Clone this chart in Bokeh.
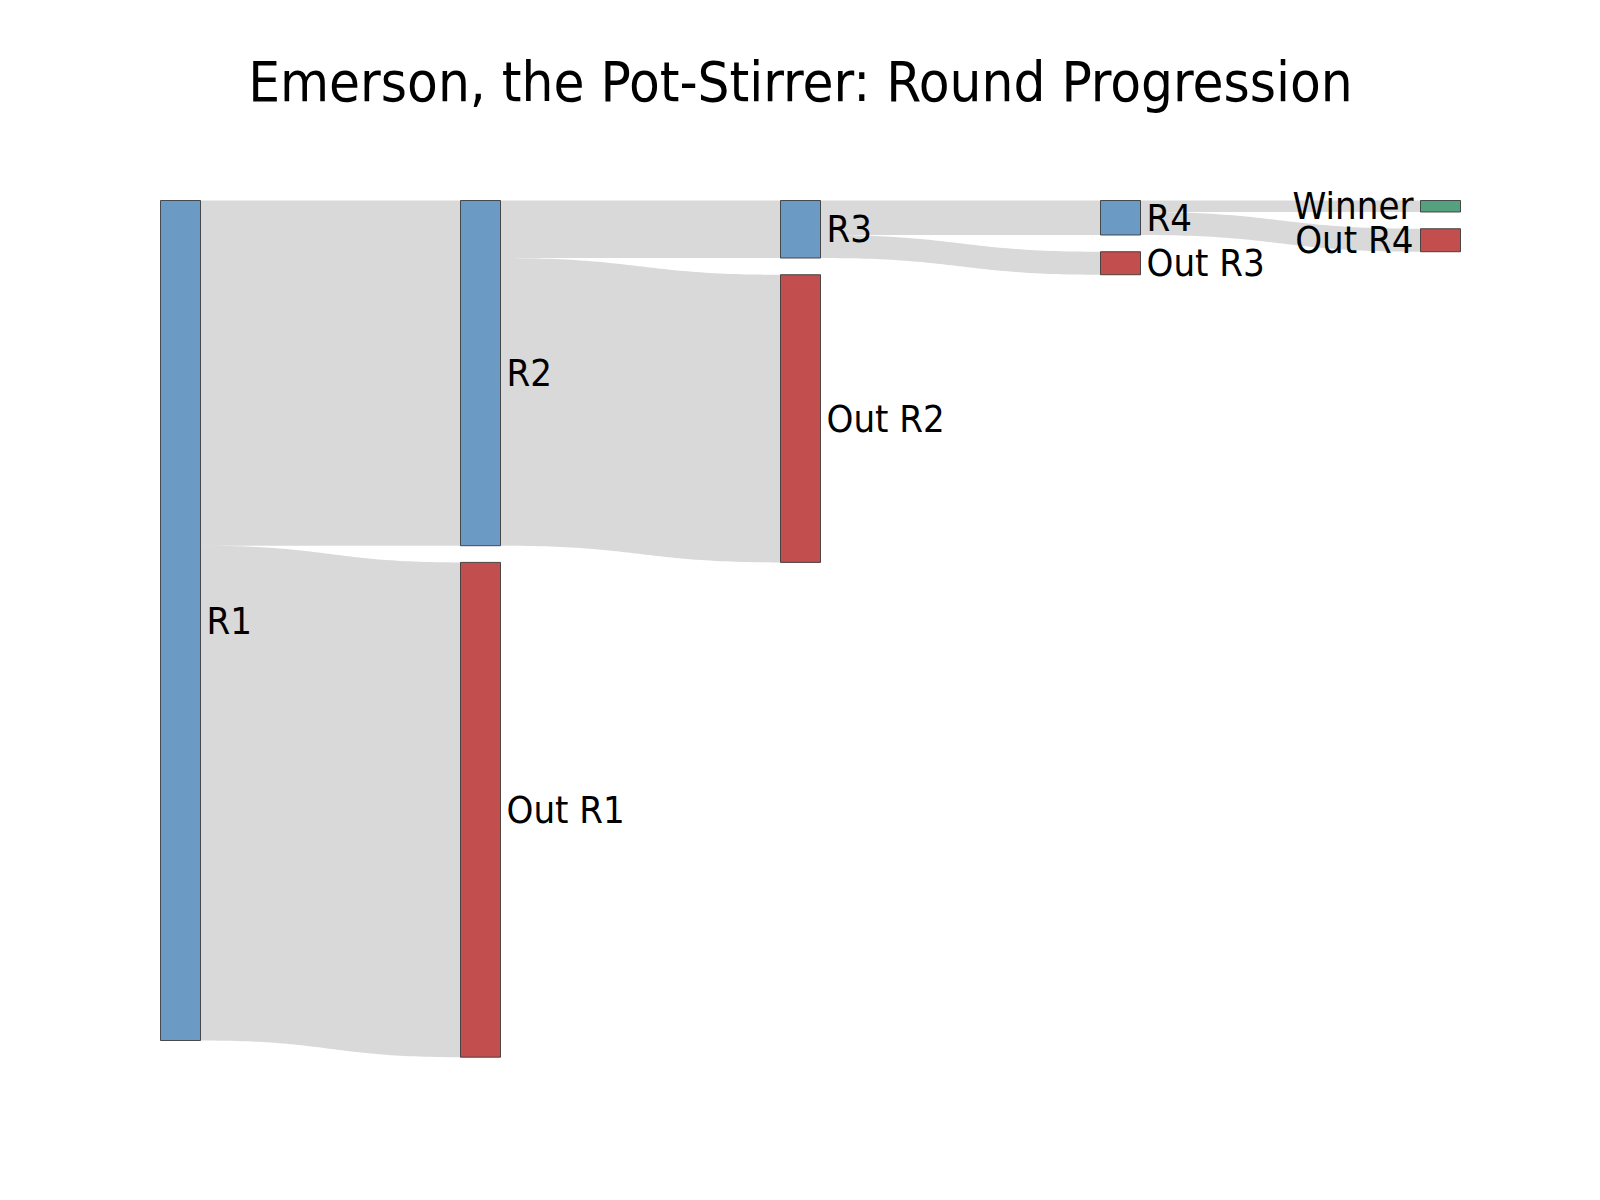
import numpy as np
from bokeh.plotting import figure
from bokeh.models import Range1d
from bokeh.core.properties import value
from bokeh.embed import file_html
from bokeh.resources import INLINE

# ---------------- data ----------------
title_text = "Emerson, the Pot-Stirrer: Round Progression"
node_labels = ["R1", "R2", "R3", "R4", "Winner", "Out R1", "Out R2", "Out R3", "Out R4"]
node_column = [0, 1, 2, 3, 4, 1, 2, 3, 4]
node_kind = ["round", "round", "round", "round", "winner", "out", "out", "out", "out"]
link_source = ["R1", "R1", "R2", "R2", "R3", "R3", "R4", "R4"]
link_target = ["R2", "Out R1", "R3", "Out R2", "R4", "Out R3", "Winner", "Out R4"]
link_value = [30, 43, 5, 25, 3, 2, 1, 2]

# ---------------- layout / style ----------------
W, H = 1584, 1184
COLUMN_LEFT = [160, 460, 780, 1100, 1420]
NODE_W = 40
PLOT_TOP = 200.0
PLOT_BOTTOM = 1056.7
PAD = 16.7
KIND_COLOR = {"round": "#6b9bc4", "out": "#c24e4e", "winner": "#55a07e"}
FONT = "DejaVu Sans Condensed"
LABEL_SIZE = 38
TITLE_SIZE = 56

# node values
inflow = {n: 0 for n in node_labels}
outflow = {n: 0 for n in node_labels}
for s, t, v in zip(link_source, link_target, link_value):
    outflow[s] += v
    inflow[t] += v
node_val = {n: max(inflow[n], outflow[n]) for n in node_labels}

ncols = max(node_column) + 1
cols = [[n for n, c in zip(node_labels, node_column) if c == k] for k in range(ncols)]
unit = min((PLOT_BOTTOM - PLOT_TOP - PAD * (len(c) - 1)) / sum(node_val[n] for n in c) for c in cols)

node_y0, node_y1, node_x0 = {}, {}, {}
for k, c in enumerate(cols):
    y = PLOT_TOP
    for n in c:
        node_y0[n] = y
        node_y1[n] = y + node_val[n] * unit
        node_x0[n] = COLUMN_LEFT[k]
        y = node_y1[n] + PAD

p = figure(width=W, height=H, x_range=Range1d(0, W), y_range=Range1d(H, 0),
           output_backend="svg", toolbar_location=None, min_border=0)
p.axis.visible = False
p.grid.visible = False
p.outline_line_color = None
p.background_fill_color = "white"

# links
src_off = {n: node_y0[n] for n in node_labels}
tgt_off = {n: node_y0[n] for n in node_labels}
order = sorted(range(len(link_value)), key=lambda i: (node_y0[link_source[i]], node_y0[link_target[i]]))
t = np.linspace(0, 1, 60)
b0, b1, b2, b3 = (1 - t) ** 3, 3 * (1 - t) ** 2 * t, 3 * (1 - t) * t ** 2, t ** 3
lxs, lys = [], []
for i in order:
    s, g, v = link_source[i], link_target[i], link_value[i]
    h = v * unit
    sy0 = src_off[s]; src_off[s] += h
    ty0 = tgt_off[g]; tgt_off[g] += h
    xs = node_x0[s] + NODE_W
    xt = node_x0[g]
    xm = (xs + xt) / 2
    bx = b0 * xs + (b1 + b2) * xm + b3 * xt
    top = (b0 + b1) * sy0 + (b2 + b3) * ty0
    bot = top + h
    lxs.append(list(np.concatenate([bx, bx[::-1]])))
    lys.append(list(np.concatenate([top, bot[::-1]])))
p.patches(lxs, lys, fill_color="black", fill_alpha=0.15, line_color=None)

# nodes
p.quad(left=[node_x0[n] for n in node_labels],
       right=[node_x0[n] + NODE_W for n in node_labels],
       top=[node_y0[n] for n in node_labels],
       bottom=[node_y1[n] for n in node_labels],
       fill_color=[KIND_COLOR[k] for k in node_kind],
       line_color="#333333", line_alpha=0.85, line_width=1)

# labels
last = ncols - 1
for n, c in zip(node_labels, node_column):
    cy = (node_y0[n] + node_y1[n]) / 2
    if c == last:
        x, a = node_x0[n] - 7, "right"
    else:
        x, a = node_x0[n] + NODE_W + 6, "left"
    p.text(x=[x], y=[cy], text=[n], text_align=a, text_baseline="middle",
           text_font=value(FONT), text_font_size=value(f"{LABEL_SIZE}px"),
           text_color="black")

p.text(x=[800], y=[81], text=[title_text], text_align="center", text_baseline="middle",
       text_font=value(FONT), text_font_size=value(f"{TITLE_SIZE}px"), text_color="black")

open("out.html", "w").write(file_html(p, INLINE))
